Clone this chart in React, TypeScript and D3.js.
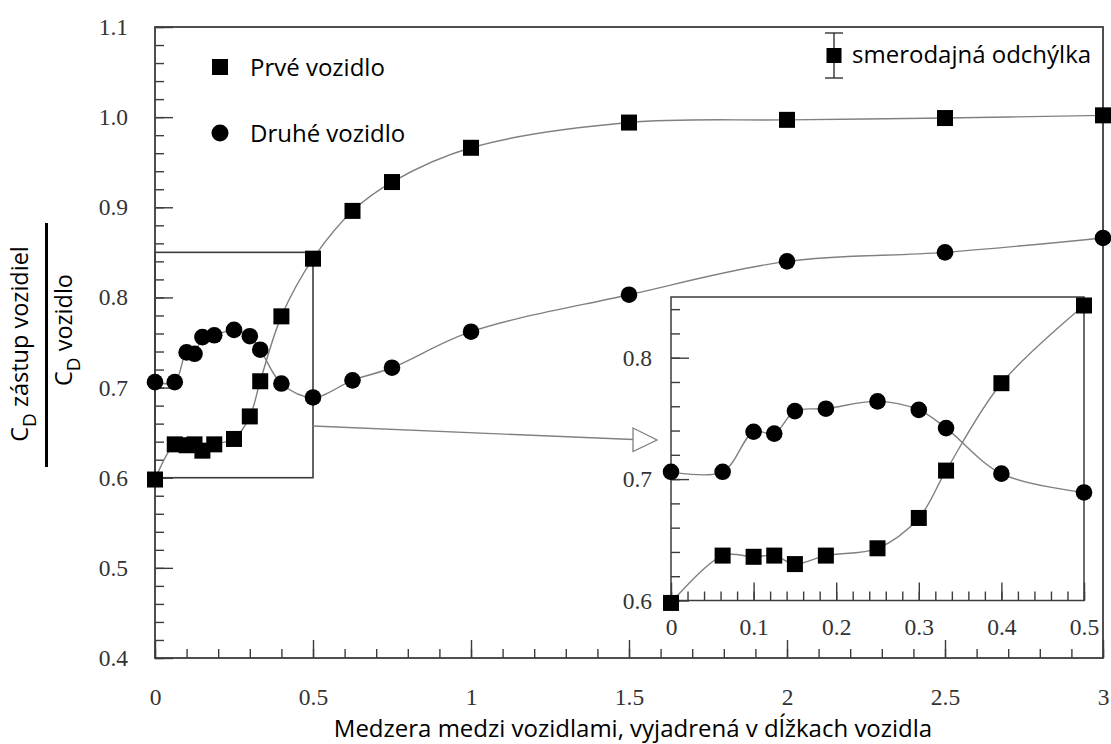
import React, { useRef, useEffect } from "react";
import * as d3 from "d3";

// gap between vehicles, in vehicle lengths
const gaps = [0, 0.0625, 0.1, 0.125, 0.15, 0.1875, 0.25, 0.3, 0.333, 0.4, 0.5, 0.625, 0.75, 1, 1.5, 2, 2.5, 3];
// drag ratio, first vehicle (squares)
const firstVehicle = [0.598, 0.637, 0.636, 0.637, 0.630, 0.637, 0.643, 0.668, 0.707, 0.779, 0.843, 0.896, 0.928, 0.966, 0.994, 0.997, 0.999, 1.002];
// drag ratio, second vehicle (circles)
const secondVehicle = [0.706, 0.706, 0.739, 0.7375, 0.756, 0.758, 0.764, 0.757, 0.742, 0.7045, 0.689, 0.708, 0.722, 0.762, 0.803, 0.840, 0.850, 0.866];

const mainXTicks = [0, 0.5, 1, 1.5, 2, 2.5, 3];
const mainYTicks = [0.4, 0.5, 0.6, 0.7, 0.8, 0.9, 1.0, 1.1];
const insetXTicks = [0, 0.1, 0.2, 0.3, 0.4, 0.5];
const insetYTicks = [0.6, 0.7, 0.8];

const legendLabels = ["Prvé vozidlo", "Druhé vozidlo"];
const errorLabel = "smerodajná odchýlka";
const xTitle = "Medzera medzi vozidlami, vyjadrená v dĺžkach vozidla";

const W = 1111;
const H = 744;
const SERIF = "Liberation Serif, Times New Roman, serif";
const SANS = "Open Sans, Noto Sans, sans-serif";
const AXIS = "#3c3c3c";
const LINE = "#808080";

const App = () => {
    const ref = useRef(null);

    useEffect(() => {
        const svg = d3.select(ref.current);
        svg.selectAll("*").remove();

        const first = gaps.map((g, i) => ({ x: g, y: firstVehicle[i] }));
        const second = gaps.map((g, i) => ({ x: g, y: secondVehicle[i] }));

        // ---------- main plot ----------
        const x = d3.scaleLinear().domain([0, 3]).range([155, 1103]);
        const y = d3.scaleLinear().domain([0.4, 1.1]).range([658, 27]);

        const drawAxes = (g, xs, ys, xMajor, xMinor, yMajor, yMinor, xPad, yPad, xFmt, yFmt) => {
            const [x0] = xs.range();
            const [y0] = ys.range();
            // minor ticks
            g.append("g")
                .attr("transform", `translate(0,${y0})`)
                .call(d3.axisBottom(xs).tickValues(xMinor).tickSize(-9).tickSizeOuter(0).tickFormat(() => ""))
                .call((a) => a.select(".domain").remove());
            g.append("g")
                .attr("transform", `translate(${x0},0)`)
                .call(d3.axisLeft(ys).tickValues(yMinor).tickSize(-9).tickSizeOuter(0).tickFormat(() => ""))
                .call((a) => a.select(".domain").remove());
            // major ticks and labels
            g.append("g")
                .attr("transform", `translate(0,${y0})`)
                .call(d3.axisBottom(xs).tickValues(xMajor).tickSize(-18).tickSizeOuter(0).tickPadding(xPad).tickFormat(xFmt))
                .call((a) => a.select(".domain").remove());
            g.append("g")
                .attr("transform", `translate(${x0},0)`)
                .call(d3.axisLeft(ys).tickValues(yMajor).tickSize(-18).tickSizeOuter(0).tickPadding(yPad).tickFormat(yFmt))
                .call((a) => a.select(".domain").remove());
            g.selectAll(".tick line").attr("stroke", AXIS).attr("stroke-width", 1.4);
            g.selectAll("g").attr("font-family", null).attr("font-size", null);
            g.selectAll(".tick text")
                .style("font-family", SERIF)
                .style("font-size", "23.5px")
                .attr("fill", "#333");
        };

        const main = svg.append("g");
        drawAxes(
            main, x, y,
            mainXTicks, d3.range(0, 3.01, 0.1),
            mainYTicks, d3.range(0.4, 1.101, 0.02),
            30, 27,
            (d) => d3.format("")(d), (d) => d3.format(".1f")(d)
        );

        // frame
        main.append("rect")
            .attr("x", x(0)).attr("y", y(1.1))
            .attr("width", x(3) - x(0)).attr("height", y(0.4) - y(1.1))
            .attr("fill", "none").attr("stroke", AXIS).attr("stroke-width", 1.8);

        // zoom box and arrow
        main.append("rect")
            .attr("x", x(0)).attr("y", y(0.85))
            .attr("width", x(0.5) - x(0)).attr("height", y(0.6) - y(0.85))
            .attr("fill", "none").attr("stroke", AXIS).attr("stroke-width", 1.6);
        main.append("line")
            .attr("x1", x(0.5)).attr("y1", 426)
            .attr("x2", 633).attr("y2", 439.5)
            .attr("stroke", LINE).attr("stroke-width", 1.3);
        main.append("path")
            .attr("d", "M633,428 L657,440 L633,451.5 Z")
            .attr("fill", "white").attr("stroke", LINE).attr("stroke-width", 1.3);

        const line = (xs, ys) => d3.line()
            .x((d) => xs(d.x))
            .y((d) => ys(d.y))
            .curve(d3.curveCatmullRom.alpha(0.5));

        const drawSeries = (g, xs, ys, sq, ci) => {
            g.append("path").datum(sq).attr("d", line(xs, ys))
                .attr("fill", "none").attr("stroke", LINE).attr("stroke-width", 1.4);
            g.append("path").datum(ci).attr("d", line(xs, ys))
                .attr("fill", "none").attr("stroke", LINE).attr("stroke-width", 1.4);
            g.selectAll(".sq").data(sq).join("rect")
                .attr("class", "sq")
                .attr("x", (d) => xs(d.x) - 8).attr("y", (d) => ys(d.y) - 8)
                .attr("width", 16).attr("height", 16)
                .attr("fill", "black");
            g.selectAll(".ci").data(ci).join("circle")
                .attr("class", "ci")
                .attr("cx", (d) => xs(d.x)).attr("cy", (d) => ys(d.y))
                .attr("r", 8.3)
                .attr("fill", "black");
        };
        drawSeries(main, x, y, first, second);

        // ---------- inset ----------
        const ix = d3.scaleLinear().domain([0, 0.5]).range([671, 1084]);
        const iy = d3.scaleLinear().domain([0.6, 0.85]).range([600.5, 297]);
        const inset = svg.append("g");
        inset.append("rect")
            .attr("x", ix(0)).attr("y", iy(0.85))
            .attr("width", ix(0.5) - ix(0)).attr("height", iy(0.6) - iy(0.85))
            .attr("fill", "white").attr("stroke", AXIS).attr("stroke-width", 1.5);
        drawAxes(
            inset, ix, iy,
            insetXTicks, d3.range(0, 0.501, 0.02),
            insetYTicks, d3.range(0.6, 0.851, 0.02),
            18, 19,
            (d) => d3.format("")(d), (d) => d3.format(".1f")(d)
        );
        drawSeries(
            inset, ix, iy,
            first.filter((d) => d.x <= 0.5),
            second.filter((d) => d.x <= 0.5)
        );

        // ---------- legend ----------
        const legend = svg.append("g");
        legend.append("rect").attr("x", 212).attr("y", 59).attr("width", 16).attr("height", 16).attr("fill", "black");
        legend.append("circle").attr("cx", 220).attr("cy", 133).attr("r", 8.5).attr("fill", "black");
        legend.selectAll(".lab").data(legendLabels).join("text")
            .attr("class", "lab")
            .attr("x", 250)
            .attr("y", (d, i) => (i === 0 ? 76 : 142))
            .style("font-family", SANS).style("font-size", "24px")
            .attr("fill", "black")
            .text((d) => d);

        // standard deviation marker
        legend.append("line").attr("x1", 834).attr("x2", 834).attr("y1", 33).attr("y2", 78).attr("stroke", "#222").attr("stroke-width", 1.3);
        legend.append("line").attr("x1", 825).attr("x2", 843).attr("y1", 33).attr("y2", 33).attr("stroke", "#222").attr("stroke-width", 1.3);
        legend.append("line").attr("x1", 825).attr("x2", 843).attr("y1", 78).attr("y2", 78).attr("stroke", "#222").attr("stroke-width", 1.3);
        legend.append("rect").attr("x", 826.5).attr("y", 48).attr("width", 15).attr("height", 15).attr("fill", "black");
        legend.append("text")
            .attr("x", 852).attr("y", 62.5)
            .style("font-family", SANS).style("font-size", "24px")
            .text(errorLabel);

        // ---------- axis titles ----------
        svg.append("text")
            .attr("x", 633).attr("y", 737)
            .attr("text-anchor", "middle")
            .style("font-family", SANS).style("font-size", "24px")
            .text(xTitle);

        const num = svg.append("text")
            .attr("transform", "translate(28,344) rotate(-90)")
            .attr("text-anchor", "middle")
            .style("font-family", SANS).style("font-size", "23.5px");
        num.append("tspan").text("C");
        num.append("tspan").attr("dy", 8).style("font-size", "19px").text("D");
        num.append("tspan").attr("dy", -8).text(" zástup vozidiel");

        const den = svg.append("text")
            .attr("transform", "translate(72,330) rotate(-90)")
            .attr("text-anchor", "middle")
            .style("font-family", SANS).style("font-size", "23.5px");
        den.append("tspan").text("C");
        den.append("tspan").attr("dy", 8).style("font-size", "19px").text("D");
        den.append("tspan").attr("dy", -8).text(" vozidlo");

        svg.append("line")
            .attr("x1", 46.5).attr("x2", 46.5).attr("y1", 223).attr("y2", 467)
            .attr("stroke", "black").attr("stroke-width", 3);
    }, []);

    return (
        <svg
            ref={ref}
            width={W}
            height={H}
            style={{ position: "absolute", left: 0, top: 0, background: "white" }}
        />
    );
};

export default App;
